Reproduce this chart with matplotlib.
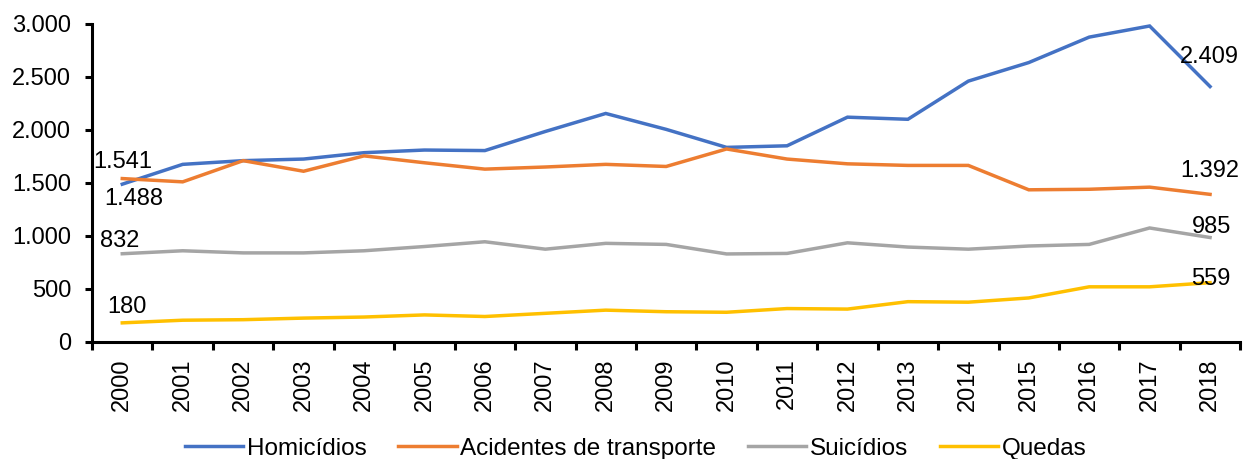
import matplotlib.pyplot as plt
from matplotlib.ticker import FuncFormatter, FixedLocator

plt.rcParams['font.family'] = ['Liberation Sans', 'DejaVu Sans']

# data
years = list(range(2000, 2019))
homicidios = [1488, 1675, 1710, 1725, 1785, 1810, 1805, 1985, 2155, 2005,
              1835, 1850, 2120, 2100, 2460, 2635, 2875, 2980, 2409]
acidentes = [1541, 1510, 1710, 1610, 1755, 1690, 1630, 1650, 1675, 1655,
             1820, 1725, 1680, 1665, 1665, 1435, 1440, 1460, 1392]
suicidios = [832, 860, 840, 840, 860, 900, 945, 875, 930, 920,
             830, 835, 935, 895, 875, 905, 920, 1075, 985]
quedas = [180, 205, 210, 225, 235, 255, 240, 270, 300, 285,
          280, 315, 310, 380, 375, 415, 520, 520, 559]

series = [
    ("Homicídios", homicidios, "#4472C4"),
    ("Acidentes de transporte", acidentes, "#ED7D31"),
    ("Suicídios", suicidios, "#A5A5A5"),
    ("Quedas", quedas, "#FFC000"),
]


def fmt(v):
    return f"{v:,.0f}".replace(",", ".")


fig = plt.figure(figsize=(12.44, 4.59), dpi=100)
ax = fig.add_axes([0.074, 0.255, 0.923, 0.693])

x = list(range(len(years)))
for name, vals, color in series:
    ax.plot(x, vals, color=color, linewidth=2.5, label=name,
            solid_joinstyle='miter')

# data labels at first and last point (pixel offsets)
first_offsets = [(11, -15), (0, 17), (-3, 13), (5, 16)]
last_offsets = [(-1, 30), (0, 23), (2, 11), (1, 4)]
for (name, vals, color), fo, lo in zip(series, first_offsets, last_offsets):
    ax.annotate(fmt(vals[0]), (x[0], vals[0]), xytext=fo,
                textcoords='offset pixels', ha='center', va='center',
                fontsize=17)
    ax.annotate(fmt(vals[-1]), (x[-1], vals[-1]), xytext=lo,
                textcoords='offset pixels', ha='center', va='center',
                fontsize=17)

ax.set_xlim(-0.5, len(years) - 0.5)
ax.set_ylim(0, 3000)
ax.set_yticks(range(0, 3001, 500))
ax.yaxis.set_major_formatter(FuncFormatter(lambda v, p: fmt(v)))

ax.set_xticks(x)
ax.set_xticklabels([str(y) for y in years], rotation=90)
ax.xaxis.set_minor_locator(FixedLocator([i - 0.5 for i in range(len(years) + 1)]))
ax.tick_params(axis='x', which='major', length=0, pad=12, labelsize=17)
ax.tick_params(axis='x', which='minor', length=6, width=2.2, direction='out')
ax.tick_params(axis='y', length=5, width=2.2, labelsize=17, pad=10)

for s in ['top', 'right']:
    ax.spines[s].set_visible(False)
for s in ['left', 'bottom']:
    ax.spines[s].set_linewidth(2.2)

fig.legend(loc='center', bbox_to_anchor=(0.511, 0.022), ncol=4, frameon=False,
           fontsize=17.5, handlelength=2.4, handletextpad=0.15, columnspacing=1.3)

fig.savefig("out.png", dpi=100)
